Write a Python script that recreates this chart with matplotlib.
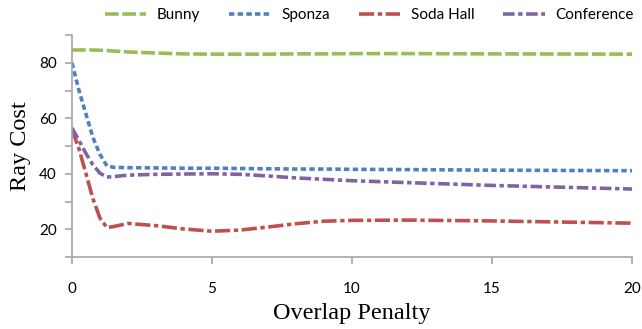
import matplotlib
matplotlib.use("Agg")
import matplotlib.pyplot as plt

# values
penalty = [0, 0.25, 0.5, 0.75, 1, 1.25, 1.5, 2, 3, 4, 5, 6, 7, 8, 9, 10, 12, 15, 20]

bunny = [84.6, 84.6, 84.6, 84.6, 84.5, 84.4, 84.2, 83.9, 83.5, 83.2, 83.1,
         83.1, 83.1, 83.2, 83.2, 83.3, 83.3, 83.2, 83.1]
sponza = [80, 70, 61.5, 53, 47, 42.8, 42.3, 42.2, 42.1, 42.0, 42.0,
          41.9, 41.8, 41.7, 41.7, 41.6, 41.5, 41.3, 41.1]
soda_hall = [56, 49, 40, 31, 24, 20.6, 21, 22.1, 21.3, 20.1, 19.3,
             19.7, 20.8, 22, 22.9, 23.2, 23.3, 23, 22.2]
conference = [56.5, 52, 47.3, 43.2, 40.2, 38.8, 39, 39.5, 39.8, 39.9, 40,
              39.8, 39.2, 38.5, 38, 37.5, 36.8, 35.8, 34.5]

x_ticks = [0, 5, 10, 15, 20]
y_ticks = [10, 20, 30, 40, 50, 60, 70, 80, 90]
y_labels = ["", "20", "", "40", "", "60", "", "80", ""]

fig = plt.figure(figsize=(6.42, 3.29), dpi=100)
ax = fig.add_axes([0.1121, 0.2188, 0.8723, 0.6748])

lw = 2.6
ax.plot(penalty, bunny, color="#9BBB59", lw=lw, dashes=(3.8, 1),
        dash_capstyle="butt", label="Bunny")
ax.plot(penalty, sponza, color="#4F81BD", lw=lw, dashes=(1.5, 0.9),
        dash_capstyle="butt", label="Sponza")
ax.plot(penalty, soda_hall, color="#C0504D", lw=lw, dashes=(4.2, 1, 1.2, 1),
        dash_capstyle="butt", label="Soda Hall")
ax.plot(penalty, conference, color="#8064A2", lw=lw, dashes=(3.2, 1, 1.2, 1),
        dash_capstyle="butt", label="Conference")

ax.set_xlim(0, 20)
ax.set_ylim(10, 90)
ax.set_xticks(x_ticks)
ax.set_yticks(y_ticks)
ax.set_yticklabels(y_labels)

for s in ["top", "right"]:
    ax.spines[s].set_visible(False)
for s in ["left", "bottom"]:
    ax.spines[s].set_color("#A6A6A6")
    ax.spines[s].set_linewidth(1.2)

ax.tick_params(axis="both", colors="#A6A6A6", width=1.2, length=5,
               labelcolor="black", labelsize=11)
ax.tick_params(axis="x", pad=13)
ax.tick_params(axis="y", pad=6)
for t in ax.get_xticklabels() + ax.get_yticklabels():
    t.set_fontfamily("Lato")

ax.set_xlabel("Overlap Penalty", fontfamily="Liberation Serif", fontsize=17.5,
              labelpad=5)
ax.set_ylabel("Ray Cost", fontfamily="Liberation Serif", fontsize=17.5,
              labelpad=6)

fig.legend(loc="center", bbox_to_anchor=(0.575, 0.954), ncol=4, frameon=False,
           handlelength=2.7, handletextpad=0.7, columnspacing=1.9,
           prop={"family": "Lato", "size": 11})

fig.savefig("out.png", dpi=100)
